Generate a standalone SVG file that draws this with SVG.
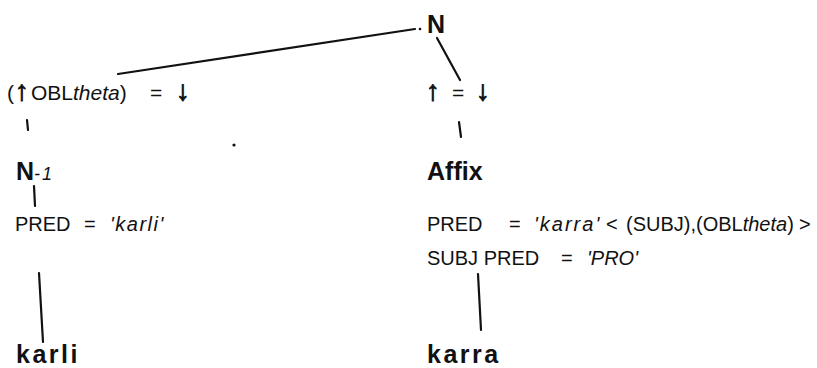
<svg xmlns="http://www.w3.org/2000/svg" width="817" height="368" viewBox="0 0 817 368">
<style>
text{font-family:"Liberation Sans",Arial,sans-serif;fill:#111}
.cat{font-size:25px;font-weight:bold}
.eq{font-size:21px}
.ar{font-size:28px;font-weight:bold;stroke:#111;stroke-width:0.9}
.f{font-size:20px}
.w{font-size:25px;font-weight:bold;letter-spacing:2.5px}
.i{font-style:italic}
.c line{stroke:#111;stroke-width:2.2;stroke-linecap:round}
</style>
<rect width="817" height="368" fill="#fff"/>
<g id="node-N"><text class="cat" x="427" y="33" font-size="27">N</text></g>
<g id="node-ann-left"><text class="eq" x="7" y="100">(</text><text class="eq" y="100"><tspan x="31">OBL</tspan><tspan class="i">theta</tspan>)<tspan x="150">=</tspan></text>
<text class="ar" x="15" y="100">↑</text><text class="ar" x="176" y="100">↓</text></g>
<g id="node-ann-right"><text class="eq" x="452" y="100">=</text>
<text class="ar" x="426" y="100">↑</text><text class="ar" x="476" y="100">↓</text></g>
<g id="node-N1"><text class="cat" x="16" y="180">N<tspan class="i" font-size="18" font-weight="normal" x="34">-</tspan><tspan class="i" font-size="18" font-weight="normal" x="42">1</tspan></text></g>
<g id="node-Affix"><text class="cat" x="427" y="180">Affix</text></g>
<g id="node-pred-left"><text class="f" y="231"><tspan x="15">PRED</tspan><tspan x="84">=</tspan><tspan class="i" x="110" letter-spacing="1.5">'karli'</tspan></text></g>
<g id="node-pred-right"><text class="f" y="231"><tspan x="427">PRED</tspan><tspan x="509">=</tspan><tspan class="i" x="534" letter-spacing="2">'karra'</tspan><tspan x="606">&lt;</tspan><tspan x="626">(SUBJ),(OBL</tspan><tspan class="i">theta</tspan>)<tspan x="799">&gt;</tspan></text>
<text class="f" y="265"><tspan x="427">SUBJ PRED</tspan><tspan x="561">=</tspan><tspan class="i" x="587">'PRO'</tspan></text></g>
<g id="node-karli"><text class="w" x="16" y="363">karli</text></g>
<g id="node-karra"><text class="w" x="427" y="363">karra</text></g>
<g id="connectors" class="c">
<line x1="118" y1="74" x2="415" y2="29"/>
<line x1="437" y1="38" x2="460" y2="80"/>
<line x1="27" y1="120" x2="28" y2="130"/>
<line x1="459" y1="122" x2="461" y2="137"/>
<line x1="34" y1="186" x2="35" y2="206"/>
<line x1="39" y1="273" x2="43" y2="342"/>
<line x1="478" y1="274" x2="481" y2="330"/>
</g>
<circle cx="420" cy="29" r="1.3" fill="#111"/>
<circle cx="234" cy="145" r="1.6" fill="#111"/>
</svg>
